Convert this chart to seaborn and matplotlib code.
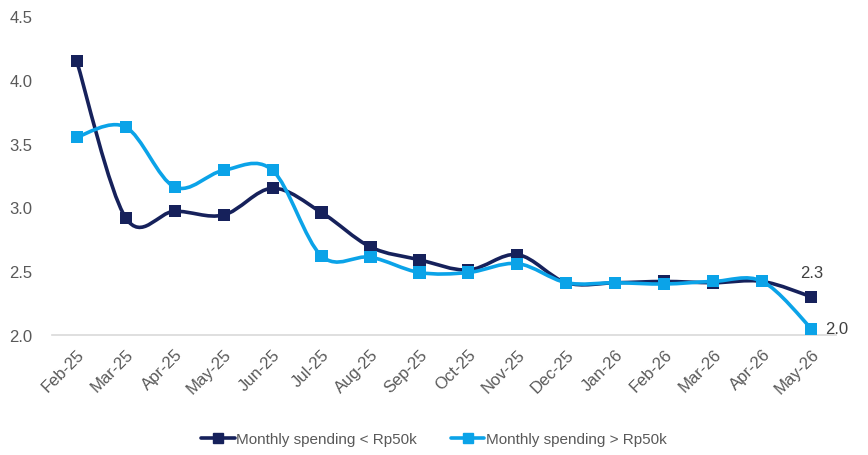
import numpy as np
import pandas as pd
import matplotlib
matplotlib.use("Agg")
import matplotlib.pyplot as plt
import seaborn as sns
from matplotlib.path import Path
from matplotlib.patches import PathPatch
from matplotlib.lines import Line2D
from matplotlib.ticker import FixedLocator

months = ["Feb-25", "Mar-25", "Apr-25", "May-25", "Jun-25", "Jul-25", "Aug-25", "Sep-25",
          "Oct-25", "Nov-25", "Dec-25", "Jan-26", "Feb-26", "Mar-26", "Apr-26", "May-26"]
below_50k = [4.15, 2.92, 2.97, 2.94, 3.15, 2.96, 2.69, 2.59,
             2.51, 2.63, 2.41, 2.41, 2.42, 2.41, 2.42, 2.30]
above_50k = [3.55, 3.63, 3.16, 3.29, 3.29, 2.62, 2.61, 2.49,
             2.49, 2.56, 2.41, 2.41, 2.40, 2.42, 2.42, 2.05]
y_ticks = [2.0, 2.5, 3.0, 3.5, 4.0, 4.5]
series_names = ["Monthly spending < Rp50k", "Monthly spending > Rp50k"]
colors = ["#16215B", "#0BA3E8"]
text_color = "#595959"

sns.set_style("white")
plt.rcParams["font.family"] = ["Liberation Sans", "DejaVu Sans"]

df = pd.DataFrame({"month": months * 2,
                   "value": below_50k + above_50k,
                   "series": [series_names[0]] * len(months) + [series_names[1]] * len(months)})


def smooth_path(xs, ys):
    # bezier path through the points, like a spreadsheet "smoothed line"
    pts = np.column_stack([xs, ys]).astype(float)
    n = len(pts)
    verts = [pts[0]]
    codes = [Path.MOVETO]
    for i in range(n - 1):
        p0 = pts[i - 1] if i > 0 else pts[i]
        p1, p2 = pts[i], pts[i + 1]
        p3 = pts[i + 2] if i + 2 < n else pts[i + 1]
        c1 = p1 + (p2 - p0) / 6.0
        c2 = p2 - (p3 - p1) / 6.0
        verts += [c1, c2, p2]
        codes += [Path.CURVE4] * 3
    return Path(verts, codes)


fig = plt.figure(figsize=(8.68, 4.56), dpi=100)
ax = fig.add_axes([0.06, 0.263, 0.903, 0.7])

x = np.arange(len(months))
for vals, c in zip([below_50k, above_50k], colors):
    ax.add_patch(PathPatch(smooth_path(x, vals), facecolor="none", edgecolor=c,
                           lw=2.6, zorder=2, capstyle="round", joinstyle="round"))

sns.scatterplot(data=df, x="month", y="value", hue="series", palette=colors,
                marker="s", s=75, linewidth=0, ax=ax, legend=False, zorder=3)

ax.set_yticks(y_ticks)
ax.set_yticklabels([f"{v:.1f}" for v in y_ticks])
ax.set_ylim(2.0, 4.5)
ax.set_xlim(-0.5, len(months) - 0.5)
ax.tick_params(axis="y", length=0, labelsize=12, labelcolor=text_color, pad=14)

ax.xaxis.set_major_locator(FixedLocator(np.arange(-0.5, len(months), 1.0)))
ax.xaxis.set_minor_locator(FixedLocator(x))
ax.set_xticklabels([], minor=False)
ax.set_xticklabels(months, minor=True, rotation=45, ha="right", rotation_mode="anchor")
ax.tick_params(axis="x", which="major", length=5, color="#D9D9D9", width=1, direction="out")
ax.tick_params(axis="x", which="minor", length=0, labelsize=12, labelcolor=text_color, pad=8)
ax.set_xlabel("")
ax.set_ylabel("")

for side in ["left", "right", "top"]:
    ax.spines[side].set_visible(False)
ax.spines["bottom"].set_color("#D9D9D9")
ax.spines["bottom"].set_linewidth(1.2)

ax.annotate(f"{below_50k[-1]:.1f}", (x[-1], below_50k[-1]), xytext=(0, 12),
            textcoords="offset points", ha="center", va="bottom", fontsize=12, color="#404040")
ax.annotate(f"{above_50k[-1]:.1f}", (x[-1], above_50k[-1]), xytext=(10, 0),
            textcoords="offset points", ha="left", va="center", fontsize=12, color="#404040")

handles = [Line2D([0], [0], color=c, lw=2.6, marker="s", markersize=7.5) for c in colors]
fig.legend(handles, series_names, loc="center", bbox_to_anchor=(0.5, 0.035), ncol=2,
           frameon=False, fontsize=11, labelcolor=text_color, handlelength=2.2,
           handletextpad=0.1, columnspacing=2.2)

fig.savefig("out.png", dpi=100)
